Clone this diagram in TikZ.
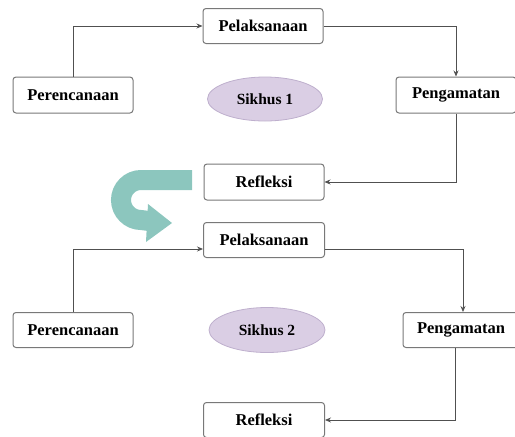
\documentclass[tikz,border=0pt]{standalone}
\usepackage{fontspec}
\setmainfont{Liberation Serif}
\usetikzlibrary{arrows.meta,shapes.geometric}
\definecolor{boxline}{RGB}{120,120,120}
\definecolor{conline}{RGB}{80,80,80}
\definecolor{ellfill}{RGB}{218,206,228}
\definecolor{ellline}{RGB}{190,175,205}
\definecolor{teal1}{RGB}{140,198,190}
\tikzset{
  stepbox/.style={draw=boxline, line width=1pt, rounded corners=3pt, fill=white,
    minimum height=35pt, inner sep=0pt, font=\fontsize{16.5}{18}\selectfont\bfseries},
  cycle/.style={ellipse, draw=ellline, line width=0.8pt, fill=ellfill, inner sep=0pt,
    minimum width=115pt, minimum height=44pt, font=\fontsize{15.5}{17}\selectfont\bfseries},
  conn/.style={draw=conline, line width=0.8pt, -{Stealth[length=6pt,width=5pt]}}
}
\begin{document}
\begin{tikzpicture}[x=1pt,y=-1pt]
\useasboundingbox (0,0) rectangle (515,437);
% cycle 1
\node[stepbox, minimum width=120pt] (P1) at (263,26) {Pelaksanaan};
\node[stepbox, minimum width=120pt, minimum height=36pt] (R1) at (73,95) {Perencanaan};
\node[cycle] (S1) at (265,99) {Sikhus 1};
\node[stepbox, minimum width=120pt, minimum height=36pt] (G1) at (456,95) {Pengamatan};
\node[stepbox, minimum width=120pt, minimum height=36pt] (F1) at (264,182) {Refleksi};
\draw[conn] (R1.north) |- (P1.west);
\draw[conn] (P1.east) -| (G1.north);
\draw[conn] (G1.south) |- (F1.east);
% cycle 2
\node[stepbox, minimum width=121pt] (P2) at (264,240) {Pelaksanaan};
\node[stepbox, minimum width=120pt] (R2) at (73,330) {Perencanaan};
\node[cycle, minimum width=116pt, minimum height=45pt] (S2) at (267,330) {Sikhus 2};
\node[stepbox, minimum width=116pt] (G2) at (461,330) {Pengamatan};
\node[stepbox, minimum width=121pt] (F2) at (264,420) {Refleksi};
\coordinate (P2w) at ([yshift=-9pt]P2.west);
\coordinate (P2e) at ([yshift=-9pt]P2.east);
\draw[conn] (R2.north) |- (P2w);
\draw[conn] (P2e) -| ([xshift=2pt]G2.north);
\draw[conn] ([xshift=-6pt]G2.south) |- (F2.east);
% curved arrow between cycles
\draw[teal1, line width=20pt] (192,180) -- (141,180)
  .. controls (130,180) and (121,189) .. (121,200)
  .. controls (121,211) and (130,220) .. (141,220) -- (149,221);
\fill[teal1] (148,204) -- (172,223) -- (146,242) -- cycle;
\end{tikzpicture}
\end{document}
